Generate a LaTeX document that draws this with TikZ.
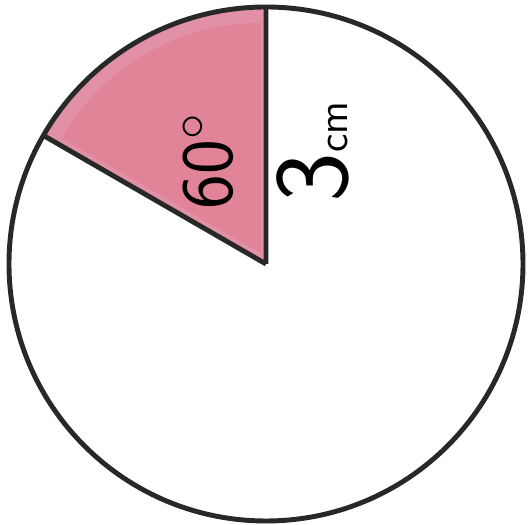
\documentclass[tikz,border=0pt]{standalone}
\usepackage{xcolor}
\usepackage{tikz}
\usetikzlibrary{calc}
\definecolor{sectorPink}{RGB}{226, 132, 152}
\definecolor{sectorEdge}{RGB}{205, 70, 105}
\definecolor{inkGrey}{RGB}{40, 40, 40}

\begin{document}
\begin{tikzpicture}[x=0.01cm, y=-0.01cm,
    outline/.style={draw=inkGrey, line width=1.4pt},
    sector/.style={fill=sectorPink, draw=inkGrey, line width=1.4pt, line join=round},
    label/.style={font=\sffamily, text=black, rotate=90, inner sep=0pt}]

    \useasboundingbox (0,0) rectangle (529,525);

    \coordinate (o) at (266,264);

    % shaded 60 degree sector (y axis points down, so angles are negated)
    \fill[sectorEdge!60] (o) -- ++(-90:255) arc (-90:-150:255) -- cycle;
    \fill[sectorPink] ($(o)+(-115:12)$) -- ++(-90:230) arc (-90:-150:230) -- cycle;
    \draw[sector, fill=none] (o) -- ++(-90:257) (o) -- ++(-150:257);

    % circle
    \draw[outline] (o) circle[radius=257];

    \node[label, font=\sffamily\fontsize{21}{24}\selectfont] (angle) at (208,161) {60$^{\circ}$};
    \node[label] (radius) at (313,152) {{\fontsize{30}{34}\selectfont 3}{\fontsize{12}{14}\selectfont cm}};

\end{tikzpicture}
\end{document}
